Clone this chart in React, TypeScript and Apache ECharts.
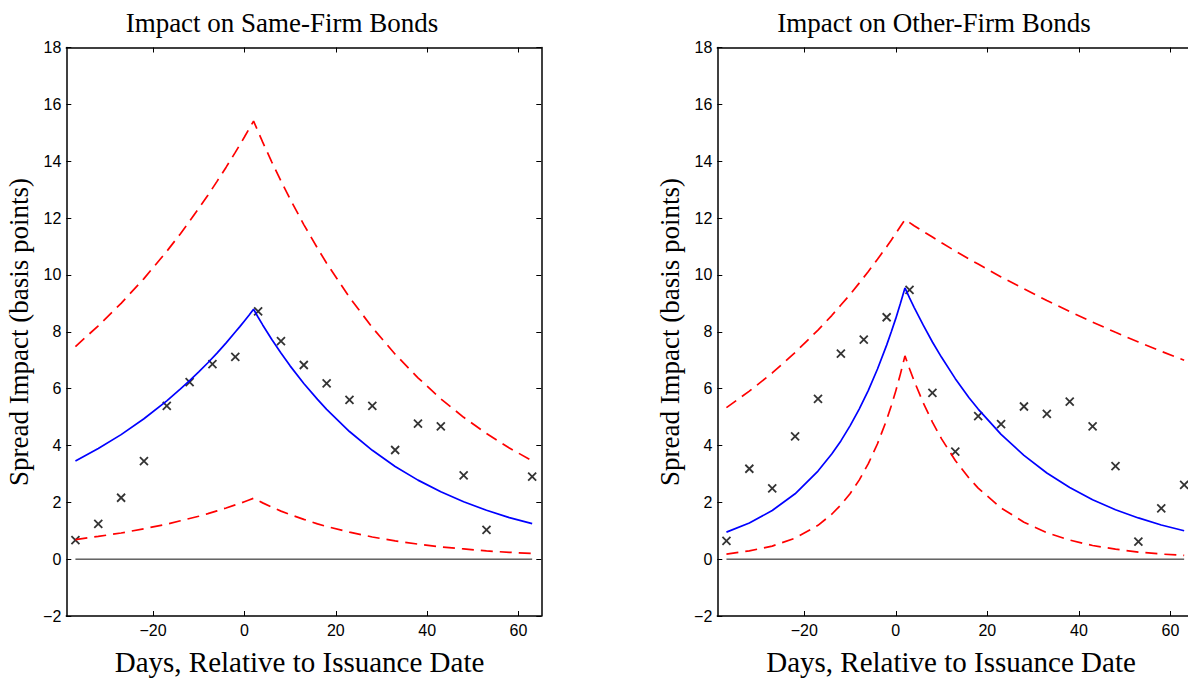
import React, { useEffect, useRef } from "react";
import * as echarts from "echarts";

// ---- data ----
const MARKER_DAYS_SAME = [-37, -32, -27, -22, -17, -12, -7, -2, 3, 8, 13, 18, 23, 28, 33, 38, 43, 48, 53, 63];
const MARKERS_SAME = [0.67, 1.24, 2.16, 3.45, 5.39, 6.23, 6.86, 7.12, 8.72, 7.67, 6.83, 6.18, 5.6, 5.39, 3.84, 4.77, 4.67, 2.95, 1.03, 2.9];

const MARKER_DAYS_OTHER = [-37, -32, -27, -22, -17, -12, -7, -2, 3, 8, 13, 18, 23, 28, 33, 38, 43, 48, 53, 58, 63];
const MARKERS_OTHER = [0.64, 3.18, 2.49, 4.32, 5.64, 7.23, 7.72, 8.51, 9.47, 5.85, 3.78, 5.03, 4.75, 5.37, 5.11, 5.54, 4.67, 3.27, 0.62, 1.79, 2.61];

const CURVE_DAYS = [-37, -32, -27, -22, -17, -14, -12, -10, -8, -6, -4, -2, -1, 0, 1, 2, 3, 4, 6, 8, 10, 13, 16, 18, 23, 28, 33, 38, 43, 48, 53, 58, 63];

const SAME_FIT = [3.45, 3.89, 4.38, 4.94, 5.57, 5.99, 6.28, 6.59, 6.91, 7.25, 7.61, 7.99, 8.18, 8.38, 8.58, 8.79, 8.51, 8.24, 7.73, 7.25, 6.8, 6.18, 5.62, 5.27, 4.49, 3.83, 3.26, 2.78, 2.37, 2.02, 1.72, 1.46, 1.25];
const SAME_UPPER = [7.48, 8.21, 9.0, 9.87, 10.83, 11.45, 11.89, 12.34, 12.8, 13.29, 13.79, 14.31, 14.58, 14.85, 15.13, 15.41, 15.04, 14.67, 13.97, 13.3, 12.67, 11.77, 10.94, 10.41, 9.21, 8.15, 7.21, 6.38, 5.64, 4.99, 4.42, 3.91, 3.46];
const SAME_LOWER = [0.69, 0.8, 0.92, 1.07, 1.23, 1.35, 1.43, 1.51, 1.6, 1.7, 1.8, 1.91, 1.96, 2.02, 2.08, 2.14, 2.06, 1.98, 1.83, 1.69, 1.57, 1.4, 1.24, 1.15, 0.95, 0.78, 0.64, 0.53, 0.43, 0.36, 0.29, 0.24, 0.2];

const OTHER_FIT = [0.95, 1.27, 1.71, 2.3, 3.1, 3.7, 4.16, 4.69, 5.28, 5.94, 6.69, 7.53, 7.99, 8.47, 8.99, 9.54, 9.19, 8.86, 8.23, 7.64, 7.1, 6.35, 5.68, 5.28, 4.39, 3.65, 3.03, 2.52, 2.09, 1.74, 1.45, 1.2, 1.0];
const OTHER_UPPER = [5.33, 5.91, 6.55, 7.27, 8.06, 8.57, 8.94, 9.31, 9.71, 10.12, 10.55, 10.99, 11.22, 11.46, 11.7, 11.94, 11.84, 11.73, 11.53, 11.33, 11.13, 10.84, 10.56, 10.38, 9.93, 9.51, 9.1, 8.71, 8.34, 7.98, 7.64, 7.31, 7.0];
const OTHER_LOWER = [0.18, 0.29, 0.46, 0.74, 1.19, 1.58, 1.91, 2.3, 2.78, 3.36, 4.06, 4.9, 5.39, 5.92, 6.51, 7.15, 6.7, 6.27, 5.5, 4.82, 4.23, 3.47, 2.85, 2.5, 1.8, 1.3, 0.93, 0.67, 0.48, 0.35, 0.25, 0.18, 0.13];

const ZERO_DAYS = [-37, 63];
const ZERO_VALUES = [0, 0];

const X_TICKS = [-20, 0, 20, 40, 60];
const X_MIN = -39;
const X_MAX = 65;
const Y_MIN = -2;
const Y_MAX = 18;
const Y_STEP = 2;

const TITLES = ["Impact on Same-Firm Bonds", "Impact on Other-Firm Bonds"];
const X_LABEL = "Days, Relative to Issuance Date";
const Y_LABEL = "Spread Impact (basis points)";

// ---- helpers ----
const pairs = (xs: number[], ys: number[]) => xs.map((x, i) => [x, ys[i]]);
const fmt = (v: number) => String(v).replace("-", "\u2212");
const SANS = '"Liberation Sans", Arial, Helvetica, sans-serif';
const SERIF = '"Liberation Serif", "Times New Roman", serif';

function xAxes(gridIndex: number) {
  const base = {
    type: "value",
    gridIndex,
    min: X_MIN,
    max: X_MAX,
    splitLine: { show: false },
    axisLine: { show: true, onZero: false, lineStyle: { color: "#000", width: 1.5 } },
    axisTick: { show: true, inside: true, length: 5, customValues: X_TICKS, lineStyle: { color: "#000", width: 1 } },
  };
  return [
    {
      ...base,
      position: "bottom",
      axisLabel: {
        show: true,
        customValues: X_TICKS,
        formatter: fmt,
        fontFamily: SANS,
        fontSize: 16,
        color: "#000",
        margin: 6,
      },
    },
    { ...base, position: "top", axisLabel: { show: false } },
  ];
}

function yAxes(gridIndex: number) {
  const base = {
    type: "value",
    gridIndex,
    min: Y_MIN,
    max: Y_MAX,
    interval: Y_STEP,
    splitLine: { show: false },
    axisLine: { show: true, onZero: false, lineStyle: { color: "#000", width: 1.5 } },
    axisTick: { show: true, inside: true, length: 5, lineStyle: { color: "#000", width: 1 } },
  };
  return [
    {
      ...base,
      position: "left",
      axisLabel: {
        show: true,
        formatter: fmt,
        fontFamily: SANS,
        fontSize: 16,
        color: "#000",
        margin: 5,
        showMinLabel: true,
        showMaxLabel: true,
      },
    },
    { ...base, position: "right", axisLabel: { show: false } },
  ];
}

function panelSeries(axisIndex: number, fit: number[], upper: number[], lower: number[], mDays: number[], marks: number[]) {
  const common = { xAxisIndex: axisIndex, yAxisIndex: axisIndex, silent: true, animation: false };
  return [
    {
      ...common,
      type: "line",
      data: pairs(ZERO_DAYS, ZERO_VALUES),
      showSymbol: false,
      symbol: "none",
      lineStyle: { color: "#111", width: 1 },
    },
    {
      ...common,
      type: "line",
      data: pairs(CURVE_DAYS, upper),
      symbol: "none",
      lineStyle: { color: "#ff0000", width: 1.7, type: [12, 7] },
    },
    {
      ...common,
      type: "line",
      data: pairs(CURVE_DAYS, lower),
      symbol: "none",
      lineStyle: { color: "#ff0000", width: 1.7, type: [12, 7] },
    },
    {
      ...common,
      type: "line",
      data: pairs(CURVE_DAYS, fit),
      symbol: "none",
      lineStyle: { color: "#0000ff", width: 1.7 },
    },
    {
      ...common,
      type: "scatter",
      data: pairs(mDays, marks),
      symbol: "path://M0,0L10,10M10,0L0,10",
      symbolSize: 8,
      itemStyle: { color: "rgba(0,0,0,0)", borderColor: "#000", borderWidth: 1.8 },
    },
  ];
}

function txt(text: string, x: number, y: number, size: number, rotation = 0) {
  return {
    type: "text",
    x,
    y,
    rotation,
    silent: true,
    style: {
      text,
      fontFamily: SERIF,
      fontSize: size,
      fill: "#000",
      textAlign: "center",
      textVerticalAlign: "middle",
      align: "center",
      verticalAlign: "middle",
    },
  };
}

export default function App() {
  const ref = useRef<HTMLDivElement>(null);

  useEffect(() => {
    if (!ref.current) return;
    const chart = echarts.init(ref.current, null, { renderer: "svg" });
    const option = {
      animation: false,
      backgroundColor: "#ffffff",
      grid: [
        { left: 66.3, top: 47.5, width: 475, height: 568.5, containLabel: false, outerBoundsMode: "none" },
        { left: 717.3, top: 47.5, width: 476, height: 568.5, containLabel: false, outerBoundsMode: "none" },
      ],
      xAxis: [...xAxes(0), ...xAxes(1)],
      yAxis: [...yAxes(0), ...yAxes(1)],
      series: [
        ...panelSeries(0, SAME_FIT, SAME_UPPER, SAME_LOWER, MARKER_DAYS_SAME, MARKERS_SAME),
        ...panelSeries(2, OTHER_FIT, OTHER_UPPER, OTHER_LOWER, MARKER_DAYS_OTHER, MARKERS_OTHER),
      ],
      graphic: [
        txt(TITLES[0], 282, 23, 27),
        txt(TITLES[1], 934, 23, 27),
        txt(X_LABEL, 299.5, 662, 29),
        txt(X_LABEL, 951, 662, 29),
        txt(Y_LABEL, 19, 332, 27, Math.PI / 2),
        txt(Y_LABEL, 670, 332, 27, Math.PI / 2),
      ],
    };
    chart.setOption(option as any);
    return () => chart.dispose();
  }, []);

  return (
    <div
      ref={ref}
      style={{ position: "fixed", left: 0, top: 0, width: 1188, height: 679, background: "#fff" }}
    />
  );
}
